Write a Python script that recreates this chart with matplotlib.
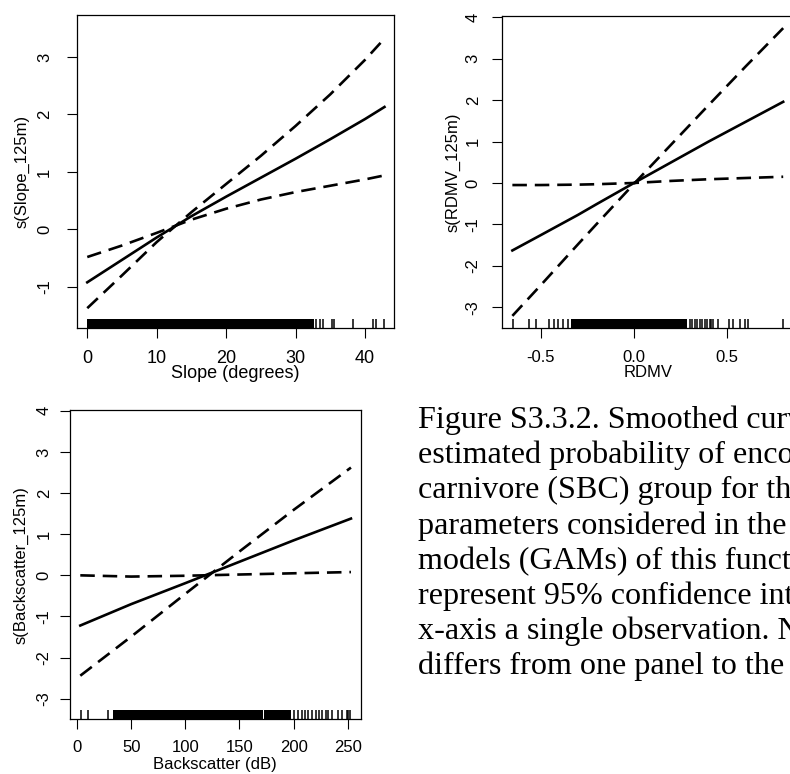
import numpy as np
import matplotlib
matplotlib.use("Agg")
import matplotlib.pyplot as plt

plt.rcParams['font.family'] = ['Liberation Sans', 'DejaVu Sans']

W, H = 790, 774

# ---- panel 1 : slope ----
slope_x = [0, 5, 10, 15, 20, 25, 30, 35, 40, 42.8]
slope_fit = [-0.92, -0.53, -0.14, 0.23, 0.57, 0.90, 1.23, 1.57, 1.92, 2.13]
slope_ci_a = [-0.48, -0.28, -0.06, 0.17, 0.36, 0.52, 0.65, 0.76, 0.87, 0.94]
slope_ci_b = [-1.37, -0.80, -0.22, 0.30, 0.79, 1.28, 1.80, 2.35, 2.95, 3.32]
slope_rug_spans = [(0, 32.7)]
slope_rug = [32.9, 33.5, 34.0, 35.2, 35.6, 38.2, 41.1, 41.6, 42.7]

# ---- panel 2 : RDMV ----
rdmv_x = [-0.652, -0.5, -0.3, -0.2, 0.0, 0.2, 0.4, 0.6, 0.8]
rdmv_fit = [-1.63, -1.26, -0.77, -0.51, 0.0, 0.50, 1.00, 1.48, 1.96]
rdmv_ci_a = [-3.21, -2.47, -1.48, -0.99, -0.02, 0.93, 1.88, 2.82, 3.74]
rdmv_ci_b = [-0.05, -0.05, -0.04, -0.03, 0.0, 0.05, 0.09, 0.12, 0.15]
rdmv_rug_spans = [(-0.336, 0.285)]
rdmv_rug = [-0.649, -0.565, -0.524, -0.453, -0.431, -0.408, -0.381, -0.354,
            0.299, 0.31, 0.326, 0.34, 0.353, 0.365, 0.379, 0.39, 0.406, 0.415,
            0.424, 0.451, 0.512, 0.530, 0.566, 0.593, 0.610, 0.799]

# ---- panel 3 : backscatter ----
bs_x = [3, 50, 100, 150, 200, 253]
bs_fit = [-1.22, -0.70, -0.19, 0.33, 0.85, 1.38]
bs_ci_a = [-2.44, -1.49, -0.45, 0.58, 1.59, 2.62]
bs_ci_b = [0.0, -0.03, -0.01, 0.02, 0.05, 0.08]
bs_rug_spans = [(33.5, 171.5), (172.8, 197.6)]
bs_rug = [3.4, 10.4, 28.4, 200.6, 203.8, 207.4, 210.5, 213.6, 217.3, 220.4,
          223.5, 226.5, 229.7, 232.1, 235.2, 241.3, 245.0, 249.0, 250.5, 252.1]

caption = [
    "Figure S3.3.2. Smoothed curves",
    "estimated probability of encountering",
    "carnivore (SBC) group for the",
    "parameters considered in the",
    "models (GAMs) of this functional",
    "represent 95% confidence intervals",
    "x-axis a single observation. Note",
    "differs from one panel to the",
]

fig = plt.figure(figsize=(W / 100, H / 100), dpi=100)


def panel(box, x, fit, ca, cb, spans, rug, xlim, ylim, xticks, xticklabels,
          yticks, xlabel, ylabel, ylab_cx, ytick_pad, xtick_pad, xlab_top, xfs):
    l, r, t, b = box
    ax = fig.add_axes([l / W, 1 - b / H, (r - l) / W, (b - t) / H])
    ax.plot(x, fit, color='black', lw=1.9)
    ax.plot(x, ca, color='black', lw=1.9, linestyle=(0, (5.5, 3)))
    ax.plot(x, cb, color='black', lw=1.9, linestyle=(0, (5.5, 3)))
    for a, e in spans:
        ax.axvspan(a, e, ymin=0, ymax=0.03, color='black', lw=0)
    ax.vlines(rug, 0, 0.03, transform=ax.get_xaxis_transform(), color='black', lw=1.1)
    ax.set_xlim(xlim)
    ax.set_ylim(ylim)
    ax.set_xticks(xticks)
    ax.set_xticklabels(xticklabels)
    ax.set_yticks(yticks)
    ax.set_yticklabels([str(v) for v in yticks], rotation=90, va='center')
    ax.tick_params(axis='y', length=7.3, width=0.8, pad=ytick_pad, labelsize=12)
    ax.tick_params(axis='x', length=7.3, width=0.8, pad=xtick_pad, labelsize=xfs)
    for s in ax.spines.values():
        s.set_linewidth(0.9)
    ax.set_xlabel(xlabel, fontsize=xfs, va='top')
    ax.xaxis.set_label_coords(0.5, (b - xlab_top) / (b - t))
    ax.set_ylabel(ylabel, fontsize=12, va='center')
    ax.yaxis.set_label_coords((ylab_cx - l) / (r - l), 0.5)
    return ax


panel((76.5, 393.5, 15, 328.3), slope_x, slope_fit, slope_ci_a, slope_ci_b,
      slope_rug_spans, slope_rug, (-1.55, 44.1), (-1.72, 3.73),
      [0, 10, 20, 30, 40], ["0", "10", "20", "30", "40"], [-1, 0, 1, 2, 3],
      "Slope (degrees)", "s(Slope_125m)", 22, 10.2, 8.0, 365, 13)

panel((502.3, 794, 15.7, 328.3), rdmv_x, rdmv_fit, rdmv_ci_a, rdmv_ci_b,
      rdmv_rug_spans, rdmv_rug, (-0.706, 0.858), (-3.51, 4.04),
      [-0.5, 0.0, 0.5], ["-0.5", "0.0", "0.5"], [-3, -2, -1, 0, 1, 2, 3, 4],
      "RDMV", "s(RDMV_125m)", 453, 8.3, 8.3, 365, 12)

panel((70, 360.7, 410, 719.3), bs_x, bs_fit, bs_ci_a, bs_ci_b,
      bs_rug_spans, bs_rug, (-6.5, 262), (-3.5, 4.02),
      [0, 50, 100, 150, 200, 250], ["0", "50", "100", "150", "200", "250"],
      [-3, -2, -1, 0, 1, 2, 3, 4],
      "Backscatter (dB)", "s(Backscatter_125m)", 21, 5.9, 7.6, 757, 12)

for i, line in enumerate(caption):
    fig.text(418 / W, 1 - (428 + 35.2 * i) / H, line, fontsize=23.1,
             family=['Liberation Serif', 'DejaVu Serif'], va='baseline', ha='left')

fig.savefig("out.png", dpi=100)
